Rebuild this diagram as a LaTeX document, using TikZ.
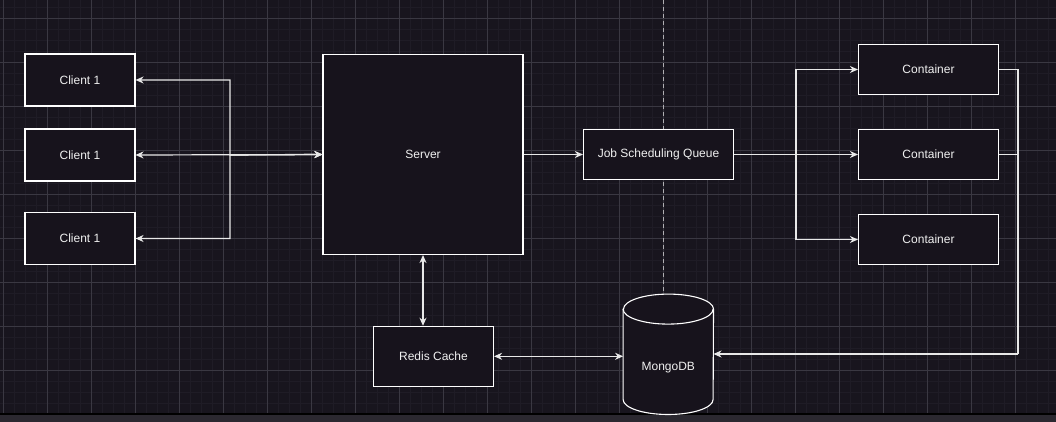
\documentclass[tikz,border=0pt]{standalone}
\usepackage{fontspec}
\setmainfont{Liberation Sans}
\usetikzlibrary{arrows.meta,calc}
\definecolor{bgc}{RGB}{24,21,30}
\definecolor{boxfill}{RGB}{23,19,28}
\definecolor{gridmaj}{RGB}{58,56,66}
\definecolor{gridmin}{RGB}{31,28,38}
\definecolor{stripc}{RGB}{43,40,48}
\definecolor{edgec}{RGB}{232,232,232}
\definecolor{txtc}{RGB}{240,240,240}
\tikzset{
  boxnode/.style={draw=white, line width=1.1pt, fill=boxfill, text=txtc, font=\fontsize{12}{14}\selectfont, inner sep=0pt},
  conn/.style={draw=edgec, line width=1.2pt, arrows={-Stealth[length=8pt,width=7pt,inset=2.5pt]}},
  bconn/.style={draw=edgec, line width=1.2pt, arrows={Stealth[length=8pt,width=7pt,inset=2.5pt]-Stealth[length=8pt,width=7pt,inset=2.5pt]}},
  plainconn/.style={draw=edgec, line width=1.2pt},
  dashconn/.style={draw=gridmaj!40!white, line width=0.9pt, dash pattern=on 4pt off 3pt},
}
\begin{document}
\begin{tikzpicture}[x=1pt,y=-1pt]
\useasboundingbox (0,0) rectangle (1056,422);
\fill[bgc] (0,0) rectangle (1056,422);
% grid
\foreach \i in {0,...,96} {\draw[gridmin, line width=0.6pt] ({3+11*\i-11},0) -- ({3+11*\i-11},414);}
\foreach \j in {0,...,38} {\draw[gridmin, line width=0.6pt] (0,{18+11*\j-11}) -- (1056,{18+11*\j-11});}
\foreach \i in {0,...,24} {\draw[gridmaj, line width=0.7pt] ({3+44*\i},0) -- ({3+44*\i},414);}
\foreach \j in {0,...,9} {\draw[gridmaj, line width=0.7pt] (0,{18+44*\j}) -- (1056,{18+44*\j});}
% bottom strip
\fill[stripc] (0,414) rectangle (1056,422);
\draw[black, line width=1.2pt] (0,414) -- (1056,414);

% mongo placeholder (invisible) and dashed line
\node[minimum width=90pt, minimum height=120pt, inner sep=0pt] (mongo) at (668.3,354.3) {};
\coordinate (dtop) at (663,0);
\draw[dashconn] (dtop) -- (dtop |- mongo.north);

% nodes
\node[boxnode, minimum width=110pt, minimum height=52pt] (c1) at (80,80) {Client 1};
\node[boxnode, minimum width=110pt, minimum height=52pt] (c2) at (80,155) {Client 1};
\node[boxnode, minimum width=110pt, minimum height=52pt] (c3) at (80,238.5) {Client 1};
\node[boxnode, minimum width=200pt, minimum height=200pt] (server) at (423,154.5) {Server};
\node[boxnode, minimum width=150pt, minimum height=50pt] (jsq) at (658.5,154.5) {Job Scheduling Queue};
\node[boxnode, minimum width=140pt, minimum height=50pt] (k1) at (928.5,69.5) {Container};
\node[boxnode, minimum width=140pt, minimum height=50pt] (k2) at (928.5,154.5) {Container};
\node[boxnode, minimum width=140pt, minimum height=50pt] (k3) at (928.5,239.5) {Container};
\node[boxnode, minimum width=120pt, minimum height=60pt] (redis) at (433.5,356.3) {Redis Cache};

% cylinder
\draw[draw=white, line width=1.1pt, fill=boxfill]
  ([yshift=-15pt]mongo.north west) -- ([yshift=15pt]mongo.south west)
  arc[start angle=180, end angle=360, x radius=45pt, y radius=15pt]
  -- ([yshift=-15pt]mongo.north east)
  arc[start angle=0, end angle=180, x radius=45pt, y radius=15pt] -- cycle;
\draw[draw=white, line width=1.1pt]
  ([yshift=-15pt]mongo.north west) arc[start angle=180, end angle=360, x radius=45pt, y radius=15pt];
\node[text=txtc, font=\fontsize{12}{14}\selectfont, inner sep=0pt] (mongotxt) at (668.3,368) {MongoDB};

% connectors
\coordinate (jc) at (230,155);
\draw[bconn] (c1.east) -| (jc) -- (server.west);
\draw[bconn] (c2.east) -- (server.west);
\draw[bconn] (c3.east) -| (jc) -- (server.west);

\draw[conn] (server.east) -- (jsq.west);

\coordinate (jk) at (796,154.5);
\draw[plainconn] (jsq.east) -- (jk);
\draw[conn] (jk) |- (k1.west);
\draw[conn] (jk) -- (k2.west);
\draw[conn] (jk) |- (k3.west);

\coordinate (km) at (1018,354);
\draw[plainconn] (k1.east) -| (km);
\draw[plainconn] (k2.east) -| (km);
\draw[conn] (km) -- (mongo.east |- km);

\draw[bconn] (server.south) -- (server.south |- redis.north);
\draw[bconn] (redis.east) -- (redis.east -| mongo.west);
\end{tikzpicture}
\end{document}
